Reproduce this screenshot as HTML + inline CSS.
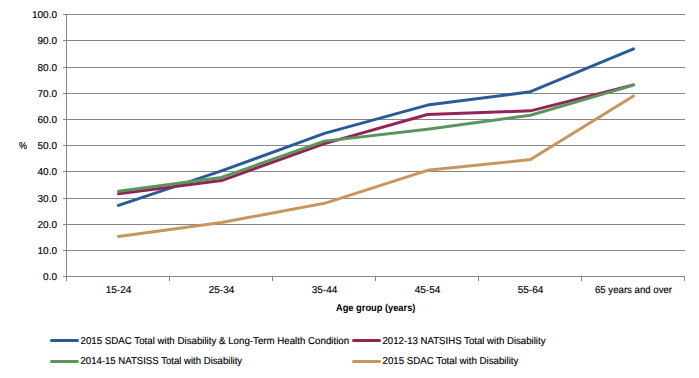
<!DOCTYPE html><html><head><meta charset="utf-8"><style>html,body{margin:0;padding:0;background:#fff;width:699px;height:378px;overflow:hidden}svg{display:block}text{font-family:"Liberation Sans",sans-serif;fill:#000;stroke:#000;stroke-width:0.15px;text-rendering:geometricPrecision}</style></head><body>
<svg width="699" height="378" viewBox="0 0 699 378">
<rect width="699" height="378" fill="#fff"/>
<rect x="63" y="14" width="622" height="1" fill="#868686"/>
<rect x="63" y="40" width="622" height="1" fill="#868686"/>
<rect x="63" y="67" width="622" height="1" fill="#868686"/>
<rect x="63" y="93" width="622" height="1" fill="#868686"/>
<rect x="63" y="119" width="622" height="1" fill="#868686"/>
<rect x="63" y="145" width="622" height="1" fill="#868686"/>
<rect x="63" y="171" width="622" height="1" fill="#868686"/>
<rect x="63" y="198" width="622" height="1" fill="#868686"/>
<rect x="63" y="224" width="622" height="1" fill="#868686"/>
<rect x="63" y="250" width="622" height="1" fill="#868686"/>
<rect x="63" y="276" width="622" height="1" fill="#868686"/>
<rect x="66" y="14" width="1" height="267" fill="#868686"/>
<rect x="169" y="276" width="1" height="5" fill="#868686"/>
<rect x="272" y="276" width="1" height="5" fill="#868686"/>
<rect x="375" y="276" width="1" height="5" fill="#868686"/>
<rect x="478" y="276" width="1" height="5" fill="#868686"/>
<rect x="581" y="276" width="1" height="5" fill="#868686"/>
<rect x="684" y="276" width="1" height="5" fill="#868686"/>
<text x="57" y="18" font-size="10" text-anchor="end">100.0</text>
<text x="57" y="44" font-size="10" text-anchor="end">90.0</text>
<text x="57" y="71" font-size="10" text-anchor="end">80.0</text>
<text x="57" y="97" font-size="10" text-anchor="end">70.0</text>
<text x="57" y="123" font-size="10" text-anchor="end">60.0</text>
<text x="57" y="149" font-size="10" text-anchor="end">50.0</text>
<text x="57" y="175" font-size="10" text-anchor="end">40.0</text>
<text x="57" y="202" font-size="10" text-anchor="end">30.0</text>
<text x="57" y="228" font-size="10" text-anchor="end">20.0</text>
<text x="57" y="254" font-size="10" text-anchor="end">10.0</text>
<text x="57" y="280" font-size="10" text-anchor="end">0.0</text>
<text x="19" y="149" font-size="10" textLength="8" lengthAdjust="spacingAndGlyphs">%</text>
<text x="118.5" y="293" font-size="10" text-anchor="middle">15-24</text>
<text x="221.5" y="293" font-size="10" text-anchor="middle">25-34</text>
<text x="324.5" y="293" font-size="10" text-anchor="middle">35-44</text>
<text x="427.5" y="293" font-size="10" text-anchor="middle">45-54</text>
<text x="530.5" y="293" font-size="10" text-anchor="middle">55-64</text>
<text x="595" y="293" font-size="10" textLength="77" lengthAdjust="spacingAndGlyphs">65 years and over</text>
<text x="336" y="311" font-size="10" font-weight="bold" style="stroke:none" textLength="79.4" lengthAdjust="spacingAndGlyphs">Age group (years)</text>
<polyline points="118.50,205.44 221.50,170.85 324.50,133.39 427.50,105.09 530.50,91.73 633.50,48.76" fill="none" stroke="#2B5B95" stroke-width="3" stroke-linejoin="round" stroke-linecap="round"/>
<polyline points="118.50,193.65 221.50,180.55 324.50,143.60 427.50,114.52 530.50,110.85 633.50,84.92" fill="none" stroke="#922455" stroke-width="3" stroke-linejoin="round" stroke-linecap="round"/>
<polyline points="118.50,191.29 221.50,177.40 324.50,141.12 427.50,129.19 530.50,115.31 633.50,85.18" fill="none" stroke="#5B955C" stroke-width="3" stroke-linejoin="round" stroke-linecap="round"/>
<polyline points="118.50,236.61 221.50,222.47 324.50,203.34 427.50,170.33 530.50,159.59 633.50,95.92" fill="none" stroke="#C8965C" stroke-width="3" stroke-linejoin="round" stroke-linecap="round"/>
<line x1="51.5" y1="340.5" x2="77.5" y2="340.5" stroke="#2B5B95" stroke-width="3" stroke-linecap="round"/>
<text x="80.5" y="344" font-size="10" textLength="268.6" lengthAdjust="spacingAndGlyphs">2015 SDAC Total with Disability &amp; Long-Term Health Condition</text>
<line x1="353.5" y1="340.5" x2="379.5" y2="340.5" stroke="#922455" stroke-width="3" stroke-linecap="round"/>
<text x="382.5" y="344" font-size="10" textLength="163" lengthAdjust="spacingAndGlyphs">2012-13 NATSIHS Total with Disability</text>
<line x1="51.5" y1="361.5" x2="77.5" y2="361.5" stroke="#5B955C" stroke-width="3" stroke-linecap="round"/>
<text x="80.5" y="364" font-size="10" textLength="161.6" lengthAdjust="spacingAndGlyphs">2014-15 NATSISS Total with Disability</text>
<line x1="353.5" y1="361.5" x2="379.5" y2="361.5" stroke="#C8965C" stroke-width="3" stroke-linecap="round"/>
<text x="382.5" y="364" font-size="10" textLength="135.9" lengthAdjust="spacingAndGlyphs">2015 SDAC Total with Disability</text>
</svg></body></html>
